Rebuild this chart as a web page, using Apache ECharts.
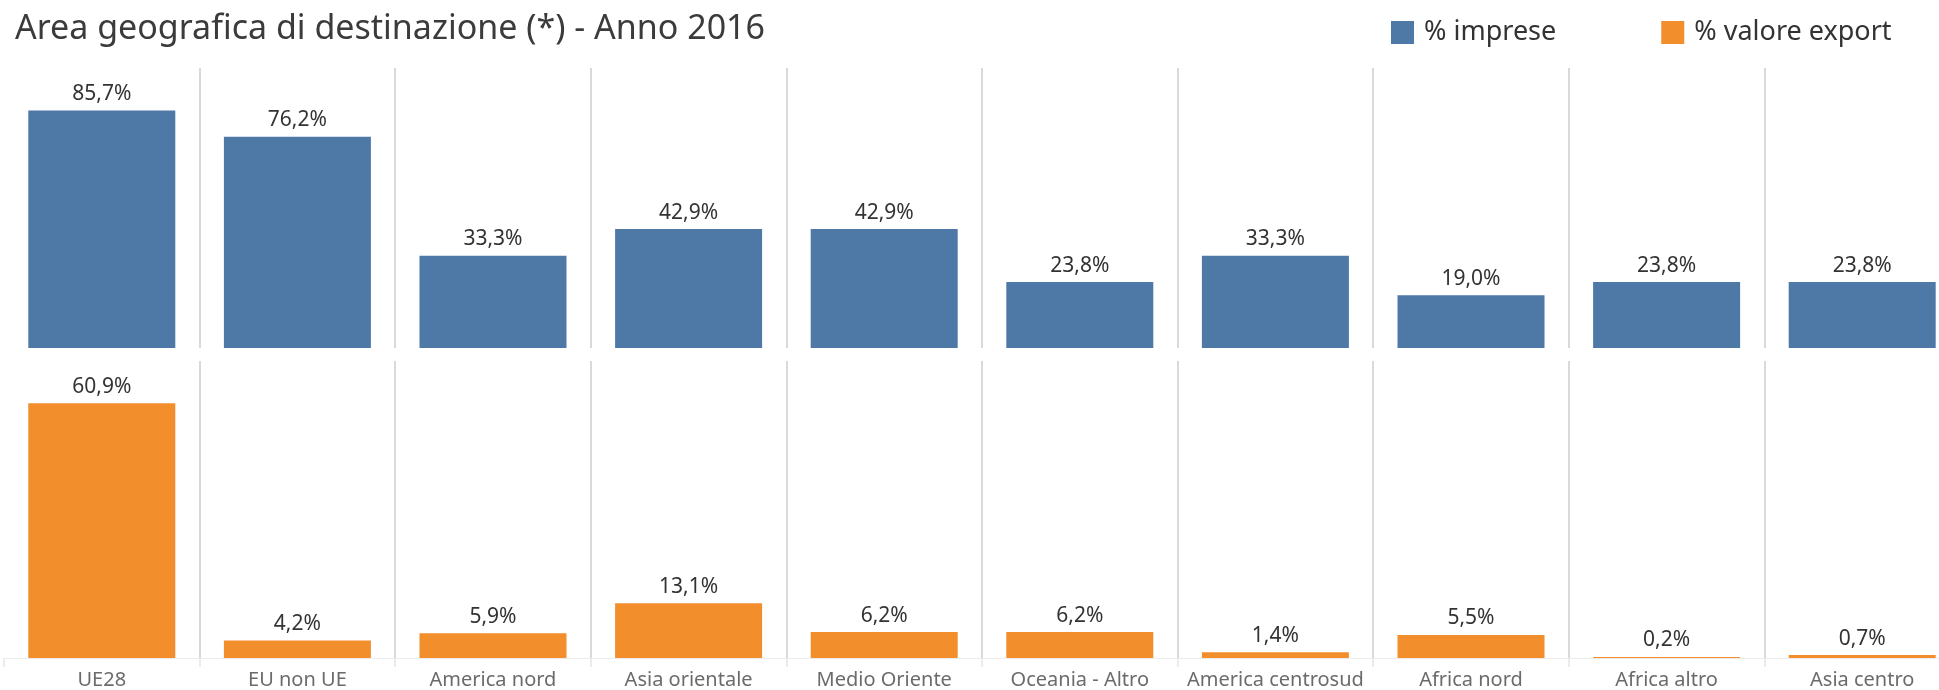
<!DOCTYPE html>
<html>
<head>
<meta charset="utf-8">
<script src="https://cdn.jsdelivr.net/npm/echarts@6/dist/echarts.min.js"></script>
<style>
  html, body { margin: 0; padding: 0; background: #fff; }
  #chart { width: 1939px; height: 690px; }
</style>
</head>
<body>
<div id="chart"></div>
<script>
// aree geografiche (categorie)
const categories = ['UE28', 'EU non UE', 'America nord', 'Asia orientale', 'Medio Oriente',
  'Oceania - Altro', 'America centrosud', 'Africa nord', 'Africa altro', 'Asia centro']
// % imprese
const imprese = [85.7, 76.2, 33.3, 42.9, 42.9, 23.8, 33.3, 19.0, 23.8, 23.8]
// % valore export
const valoreExport = [60.9, 4.2, 5.9, 13.1, 6.2, 6.2, 1.4, 5.5, 0.2, 0.7]

const FONT = 'Noto Sans'
const fmt = p => p.value.toFixed(1).replace('.', ',') + '%'
const sepLine = { show: true, interval: 0, showMinLine: false, lineStyle: { color: '#d9d9d9', width: 2 } }

const chart = echarts.init(document.getElementById('chart'))
chart.setOption({
  animation: false,
  textStyle: { fontFamily: FONT },
  title: {
    text: 'Area geografica di destinazione (*) - Anno 2016',
    left: 10,
    top: 7,
    textStyle: { fontFamily: FONT, fontSize: 34, fontWeight: 'normal', color: '#3b3b3b' }
  },
  legend: {
    data: ['% imprese', '% valore export'],
    left: 1386,
    top: 14,
    itemWidth: 23,
    itemHeight: 23,
    itemGap: 105,
    icon: 'rect',
    textStyle: { fontFamily: FONT, fontSize: 27, color: '#333', padding: [0, 0, 0, 5] }
  },
  grid: [
    { left: 4, right: -21, top: 68, height: 280, outerBoundsMode: 'none' },
    { left: 4, right: -21, top: 361, height: 297, outerBoundsMode: 'none' }
  ],
  xAxis: [
    {
      type: 'category', gridIndex: 0, data: categories,
      axisLine: { show: false }, axisTick: { show: false }, axisLabel: { show: false },
      splitLine: sepLine
    },
    {
      type: 'category', gridIndex: 1, data: categories,
      axisLine: { show: true, lineStyle: { color: '#ececec', width: 1 } },
      axisTick: { show: true, interval: 0, length: 9, lineStyle: { color: '#ececec', width: 2 } },
      axisLabel: { interval: 0, fontFamily: FONT, fontSize: 20, color: '#6b6b6b', margin: 12 },
      splitLine: sepLine
    }
  ],
  yAxis: [
    { type: 'value', gridIndex: 0, min: 0, max: 101, show: false, splitLine: { show: false } },
    { type: 'value', gridIndex: 1, min: 0, max: 71, show: false, splitLine: { show: false } }
  ],
  series: [
    {
      name: '% imprese', type: 'bar', xAxisIndex: 0, yAxisIndex: 0,
      data: imprese, barWidth: 147,
      itemStyle: { color: '#4e79a7' },
      label: { show: true, position: 'top', distance: 6, formatter: fmt,
        fontFamily: FONT, fontSize: 21, color: '#333' }
    },
    {
      name: '% valore export', type: 'bar', xAxisIndex: 1, yAxisIndex: 1,
      data: valoreExport, barWidth: 147, barMinHeight: 1,
      itemStyle: { color: '#f28e2b' },
      label: { show: true, position: 'top', distance: 6, formatter: fmt,
        fontFamily: FONT, fontSize: 21, color: '#333' }
    }
  ]
})
</script>
</body>
</html>
